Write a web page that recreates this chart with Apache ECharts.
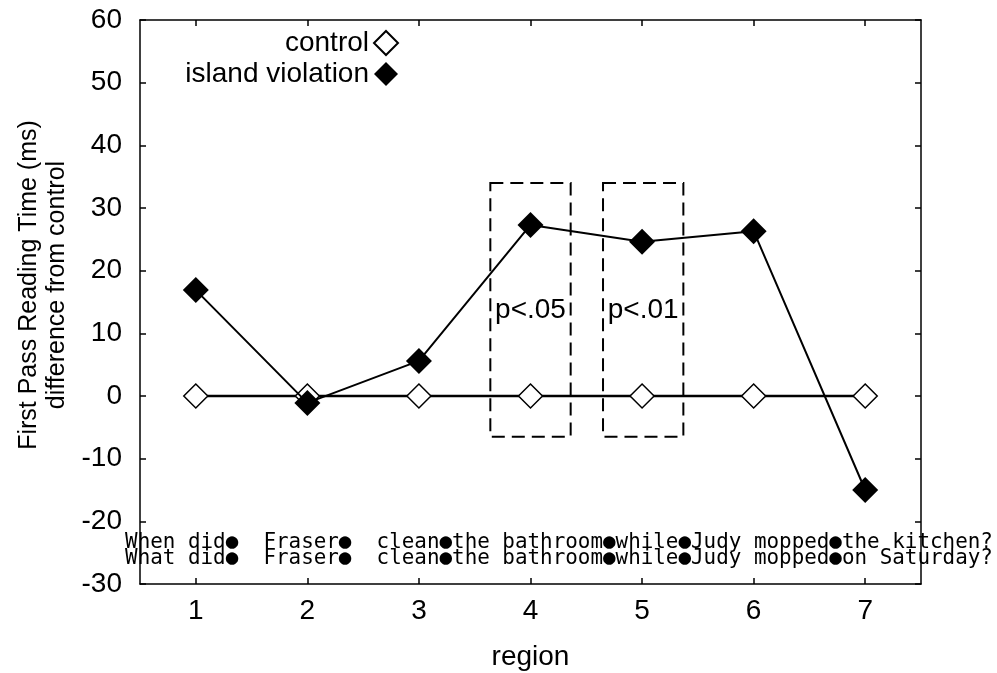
<!DOCTYPE html>
<html>
<head>
<meta charset="utf-8">
<script src="https://cdn.jsdelivr.net/npm/echarts@6/dist/echarts.min.js"></script>
<style>html,body{margin:0;padding:0;background:#fff}#c{width:997px;height:673px}</style>
</head>
<body>
<div id="c"></div>
<script>
const regions = [1, 2, 3, 4, 5, 6, 7];
const controlValues = [0, 0, 0, 0, 0, 0, 0];
const violationValues = [16.9, -1.1, 5.6, 27.3, 24.6, 26.3, -15.0];
const yTicks = [-30, -20, -10, 0, 10, 20, 30, 40, 50, 60];
const sigBoxes = [
  { x1: 3.64, x2: 4.36, y1: 34.0, y2: -6.5, label: 'p<.05', labelX: 4.0, labelY: 13.6 },
  { x1: 4.65, x2: 5.37, y1: 34.0, y2: -6.5, label: 'p<.01', labelX: 5.01, labelY: 13.6 }
];
const sentenceRows = [
  { text: 'When did\u25CF  Fraser\u25CF  clean\u25CFthe bathroom\u25CFwhile\u25CFJudy mopped\u25CFthe kitchen?', x: 0.366, y: -23.4 },
  { text: 'What did\u25CF  Fraser\u25CF  clean\u25CFthe bathroom\u25CFwhile\u25CFJudy mopped\u25CFon Saturday?', x: 0.366, y: -26.0 }
];

const FONT = 'Liberation Sans, Arial, sans-serif';
const chart = echarts.init(document.getElementById('c'), null, { renderer: 'canvas' });

const baseX = {
  type: 'value', min: 0.5, max: 7.5,
  axisLine: { show: true, onZero: false, lineStyle: { color: '#000', width: 1.5 } },
  axisTick: { show: true, inside: true, length: 6, customValues: regions, lineStyle: { color: '#000', width: 1.5 } },
  splitLine: { show: false }
};
const baseY = {
  type: 'value', min: -30, max: 60, interval: 10,
  axisLine: { show: true, onZero: false, lineStyle: { color: '#000', width: 1.5 } },
  axisTick: { show: true, inside: true, length: 6, lineStyle: { color: '#000', width: 1.5 } },
  splitLine: { show: false }
};

const option = {
  backgroundColor: '#fff',
  animation: false,
  grid: { left: 140, right: 76, top: 20, bottom: 89, containLabel: false, outerBoundsMode: 'none' },
  legend: {
    orient: 'vertical', right: 593, top: 24, align: 'right',
    itemWidth: 24, itemHeight: 24, itemGap: 3,
    textStyle: { fontFamily: FONT, fontSize: 28, color: '#000' },
    data: [{ name: 'control', icon: 'diamond' }, { name: 'island violation', icon: 'diamond' }]
  },
  xAxis: [
    Object.assign({}, baseX, {
      position: 'bottom',
      name: 'region', nameLocation: 'middle', nameGap: 59,
      nameTextStyle: { fontFamily: FONT, fontSize: 28, color: '#000' },
      axisLabel: { show: true, customValues: regions, margin: 13, fontFamily: FONT, fontSize: 28, color: '#000' }
    }),
    Object.assign({}, baseX, { position: 'top', axisLabel: { show: false } })
  ],
  yAxis: [
    Object.assign({}, baseY, {
      position: 'left',
      name: 'First Pass Reading Time (ms)\ndifference from control',
      nameLocation: 'middle', nameGap: 68,
      nameTextStyle: { fontFamily: FONT, fontSize: 25, color: '#000', lineHeight: 28, padding: [0, 0, 0, 34] },
      axisLabel: { show: true, margin: 18, fontFamily: FONT, fontSize: 28, color: '#000' }
    }),
    Object.assign({}, baseY, { position: 'right', axisLabel: { show: false } })
  ],
  series: [
    {
      name: 'control', type: 'line', xAxisIndex: 0, yAxisIndex: 0, z: 3,
      data: regions.map((r, i) => [r, controlValues[i]]),
      symbol: 'diamond', symbolSize: 24,
      lineStyle: { color: '#000', width: 2.5 },
      itemStyle: { color: '#fff', borderColor: '#000', borderWidth: 1.5 },
      markArea: {
        silent: true,
        itemStyle: { color: 'rgba(0,0,0,0)', borderColor: '#000', borderWidth: 2, borderType: [13, 7] },
        data: sigBoxes.map(b => [{ coord: [b.x1, b.y1] }, { coord: [b.x2, b.y2] }])
      }
    },
    {
      name: 'island violation', type: 'line', xAxisIndex: 0, yAxisIndex: 0, z: 4,
      data: regions.map((r, i) => [r, violationValues[i]]),
      symbol: 'diamond', symbolSize: 26,
      lineStyle: { color: '#000', width: 2 },
      itemStyle: { color: '#000', borderColor: '#000', borderWidth: 0 }
    },
    {
      name: 'pvals', type: 'scatter', xAxisIndex: 0, yAxisIndex: 0, silent: true, clip: false, z: 5,
      symbolSize: 0, itemStyle: { color: '#000', opacity: 1 },
      data: sigBoxes.map(b => ({ value: [b.labelX, b.labelY], name: b.label })),
      label: { show: true, position: 'inside', formatter: p => p.name, fontFamily: FONT, fontSize: 28, color: '#000', textBorderWidth: 0, opacity: 1 }
    },
    {
      name: 'sentences', type: 'scatter', xAxisIndex: 0, yAxisIndex: 0, silent: true, clip: false, z: 5,
      symbolSize: 0, itemStyle: { color: '#000', opacity: 1 },
      data: sentenceRows.map(s => ({ value: [s.x, s.y], name: s.text })),
      label: {
        show: true, position: 'inside', align: 'left', verticalAlign: 'middle', textBorderWidth: 0, opacity: 1,
        formatter: p => p.name, fontFamily: 'DejaVu Sans Mono, monospace', fontSize: 20.9, color: '#000'
      }
    }
  ]
};
chart.setOption(option);
</script>
</body>
</html>
